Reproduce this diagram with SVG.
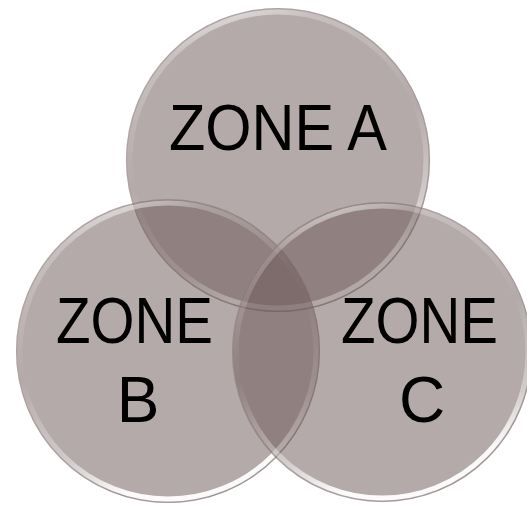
<svg xmlns="http://www.w3.org/2000/svg" width="527" height="505" viewBox="0 0 527 505">
  <defs>
    <linearGradient id="gloss" x1="0" y1="0" x2="0.3" y2="1">
      <stop offset="0" stop-color="#ffffff" stop-opacity="0.85"/>
      <stop offset="0.18" stop-color="#ffffff" stop-opacity="0.25"/>
      <stop offset="0.55" stop-color="#ffffff" stop-opacity="0"/>
      <stop offset="0.85" stop-color="#ffffff" stop-opacity="0.4"/>
      <stop offset="1" stop-color="#ffffff" stop-opacity="0.95"/>
    </linearGradient>
    <linearGradient id="rim" x1="0" y1="0" x2="1" y2="1">
      <stop offset="0" stop-color="#b0a6a5" stop-opacity="0.45"/>
      <stop offset="1" stop-color="#857877" stop-opacity="0.5"/>
    </linearGradient>
    <style>
      .disc { fill: #6b5555; fill-opacity: 0.5; }
      .rim { fill: none; stroke: url(#rim); stroke-width: 1.2; }
      .gloss { fill: none; stroke: url(#gloss); stroke-width: 5; }
      .lbl { font-family: "Liberation Sans", Arial, sans-serif; font-size: 64px; fill: #000000; }
    </style>
  </defs>
  <rect width="527" height="505" fill="#ffffff"/>
  <g id="zone-a">
    <circle class="disc" cx="278" cy="160" r="152"/>
    <circle class="rim" cx="278" cy="160" r="151.5"/>
    <circle class="gloss" cx="278" cy="160" r="148"/>
  </g>
  <g id="zone-b">
    <circle class="disc" cx="168" cy="351" r="152"/>
    <circle class="rim" cx="168" cy="351" r="151.5"/>
    <circle class="gloss" cx="168" cy="351" r="148"/>
  </g>
  <g id="zone-c">
    <circle class="disc" cx="382" cy="352" r="150"/>
    <circle class="rim" cx="382" cy="352" r="149.5"/>
    <circle class="gloss" cx="382" cy="352" r="146"/>
  </g>
  <g id="labels">
    <text class="lbl" x="169" y="150" textLength="218" lengthAdjust="spacingAndGlyphs">ZONE A</text>
    <text class="lbl" x="56" y="343" textLength="157" lengthAdjust="spacingAndGlyphs">ZONE</text>
    <text class="lbl" x="138" y="422" text-anchor="middle">B</text>
    <text class="lbl" x="341" y="343" textLength="157" lengthAdjust="spacingAndGlyphs">ZONE</text>
    <text class="lbl" x="422" y="422" text-anchor="middle">C</text>
  </g>
</svg>
